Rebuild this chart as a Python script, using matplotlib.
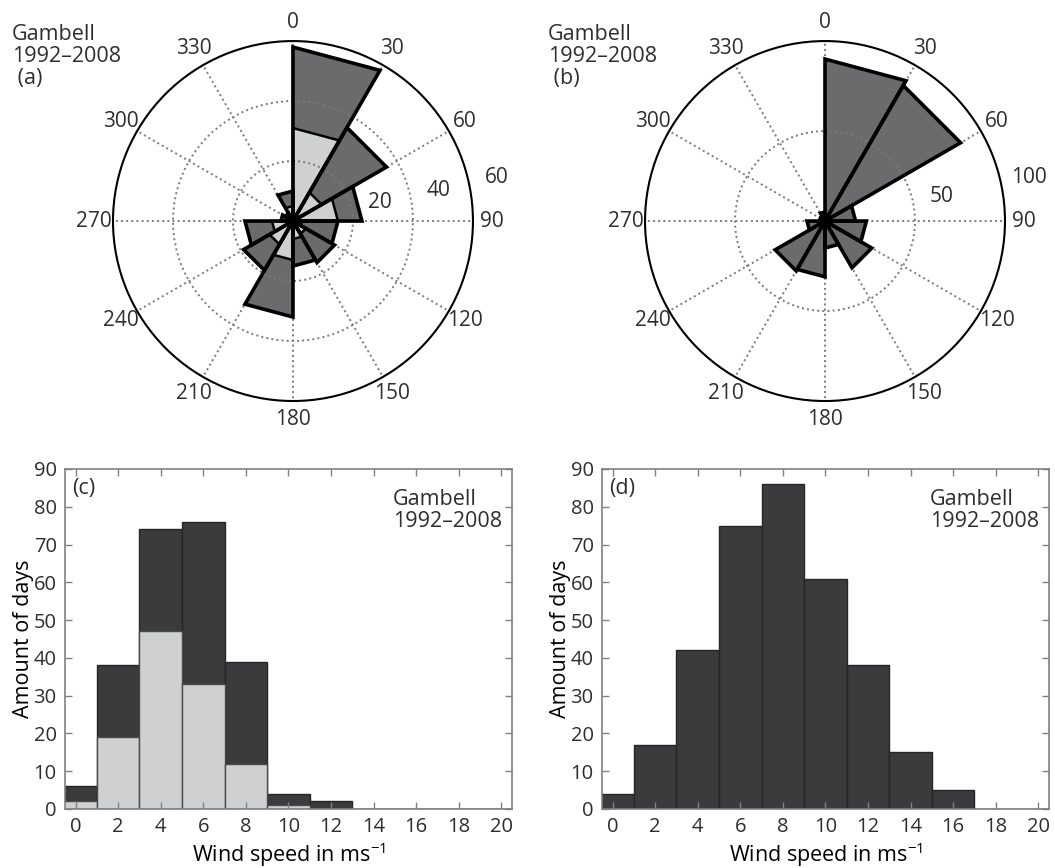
import numpy as np
import matplotlib
matplotlib.use('Agg')
import matplotlib.pyplot as plt

plt.rcParams['font.family'] = ['Open Sans', 'DejaVu Sans']
plt.rcParams['mathtext.fontset'] = 'custom'
plt.rcParams['mathtext.rm'] = 'Open Sans'
plt.rcParams['text.color'] = '#2e2e2e'

# wind roses: 30 degree sectors, starting at north, clockwise
sector_start = np.arange(0, 360, 30)
rose_a_all = [58, 36, 23, 15, 16, 15, 32, 19, 16, 4, 3, 10]
rose_a_sub = [31, 11, 15, 3, 5, 6, 13, 9, 7, 2, 1.5, 5]
rose_b_all = [90, 87, 17, 23, 30, 15, 31, 32, 10, 3, 2, 5]

# wind speed histograms (bin centres in m/s)
speed_bins = np.arange(0, 21, 2)
hist_c_all = [6, 38, 74, 76, 39, 4, 2, 0, 0, 0, 0]
hist_c_sub = [2, 19, 47, 33, 12, 1, 0, 0, 0, 0, 0]
hist_d_all = [4, 17, 42, 75, 86, 61, 38, 15, 5, 0, 0]

DARK_ROSE = '#6b6b6d'
LIGHT = '#cfd0d2'
DARK_BAR = '#3b3b3d'
SPINE = '#808080'

W, H = 1055, 868
fig = plt.figure(figsize=(W / 100, H / 100), dpi=100)


def wedge(start, val, n=40):
    # rose sector like matlab: triangle with a straight outer edge
    a = np.deg2rad([start, start + 30])
    p1 = val * np.array([np.sin(a[0]), np.cos(a[0])])
    p2 = val * np.array([np.sin(a[1]), np.cos(a[1])])
    t = np.linspace(0, 1, n)[:, None]
    pts = p1 + t * (p2 - p1)
    th = np.unwrap(np.arctan2(pts[:, 0], pts[:, 1]))
    r = np.hypot(pts[:, 0], pts[:, 1])
    return np.r_[th[0], th, th[-1]], np.r_[0, r, 0]


def draw_sectors(ax, vals, face, lw):
    for s, v in zip(sector_start, vals):
        th, r = wedge(s, v)
        ax.fill(th, r, facecolor=face, edgecolor='none', zorder=1)
        ax.fill(th, r, facecolor='none', edgecolor='black', linewidth=lw,
                joinstyle='miter', zorder=3)


def draw_rose(rect, all_vals, sub_vals, rmax, rings):
    ax = fig.add_axes(rect, projection='polar')
    ax.set_theta_zero_location('N')
    ax.set_theta_direction(-1)
    draw_sectors(ax, all_vals, DARK_ROSE, 2.6)
    if sub_vals is not None:
        draw_sectors(ax, sub_vals, LIGHT, 1.8)
    ax.plot(0, 0, 'o', color='black', ms=9, zorder=5)

    ax.set_ylim(0, rmax)
    ax.set_yticks(rings)
    ax.set_yticklabels([])
    ax.set_xticks(np.deg2rad(sector_start))
    ax.set_xticklabels([])
    ax.grid(True, linestyle=':', color='#7a7a7a', linewidth=1.4)
    ax.spines['polar'].set_linewidth(1.5)
    ax.spines['polar'].set_color('black')

    for ang in sector_start:
        ax.text(np.deg2rad(ang), 1.105 * rmax, str(ang), ha='center', va='center', fontsize=15)
    for r in list(rings) + [rmax]:
        ax.text(np.deg2rad(78), r + 0.16 * rmax, str(r), ha='center', va='center', fontsize=15)
    return ax


def draw_hist(rect, all_vals, sub_vals, tag):
    ax = fig.add_axes(rect)
    ax.bar(speed_bins, all_vals, width=2, color=DARK_BAR, edgecolor='#262626', linewidth=1)
    if sub_vals is not None:
        ax.bar(speed_bins, sub_vals, width=2, color=LIGHT, edgecolor='#4a4a4a', linewidth=1)
    ax.set_xlim(-0.5, 20.5)
    ax.set_ylim(0, 90)
    ax.set_xticks(speed_bins)
    ax.set_yticks(np.arange(0, 91, 10))
    ax.tick_params(direction='in', top=True, right=True, length=5, width=1,
                   color=SPINE, labelsize=14.5, labelcolor='#2e2e2e', pad=6)
    for s in ax.spines.values():
        s.set_color(SPINE)
        s.set_linewidth(1.2)
    ax.set_xlabel('Wind speed in ms$^{\\mathregular{-1}}$', fontsize=15.5, labelpad=2)
    ax.set_ylabel('Amount of days', fontsize=15.5, labelpad=0)
    ax.text(0.016, 0.944, tag, transform=ax.transAxes, ha='left', va='center', fontsize=15.5)
    ax.text(0.733, 0.878, 'Gambell\n1992\u20132008', transform=ax.transAxes,
            ha='left', va='center', fontsize=15.5, linespacing=1.1)
    return ax


draw_rose([0.1071, 0.538, 0.3412, 0.4147], rose_a_all, rose_a_sub, 60, [20, 40])
draw_rose([0.6114, 0.538, 0.3412, 0.4147], rose_b_all, None, 100, [50])

fig.text(12 / W, 1 - 24 / H, 'Gambell\n1992\u20132008\n (a)', ha='left', va='top',
         fontsize=15.5, linespacing=1.05)
fig.text(548 / W, 1 - 24 / H, 'Gambell\n1992\u20132008\n (b)', ha='left', va='top',
         fontsize=15.5, linespacing=1.05)

draw_hist([0.0616, 0.068, 0.4237, 0.3917], hist_c_all, hist_c_sub, '(c)')
draw_hist([0.5706, 0.068, 0.4237, 0.3917], hist_d_all, None, '(d)')

fig.savefig('out.png', dpi=100)
